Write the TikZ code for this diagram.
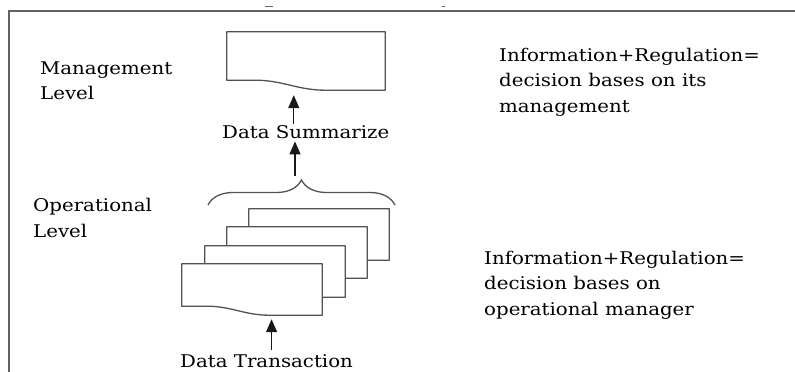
\documentclass[tikz,border=0pt]{standalone}
\usepackage{fontspec}
\setmainfont{DejaVu Serif}[FakeStretch=1.13]
\usetikzlibrary{arrows.meta,calc,decorations.pathreplacing}

\tikzset{
  frameline/.style={draw=black!62, line width=1.4pt},
  docline/.style={draw=black!68, line width=1.3pt, fill=white, line join=round},
  docbox/.style={inner sep=0pt, minimum width=#1},
  conn/.style={draw=black!68, line width=1.3pt,
    -{Triangle[width=11pt,length=13pt]}, black!90},
  txt/.style={inner sep=0pt, anchor=base west, align=left, text=black,
    font=\fontsize{17.5}{25.5}\selectfont},
  bracestyle/.style={draw=black!68, line width=1.3pt,
    decorate, decoration={brace, amplitude=25pt, aspect=0.5}},
}

% document symbol with a wavy bottom edge, drawn over a named box node
\newcommand\docpath[2]{%
  \path[docline] (#1.north west) -- (#1.north east) -- (#1.south east)
    -- ($(#1.south west)!0.62!(#1.south east)$)
    .. controls ($(#1.south west)!0.45!(#1.south east)$)
       and ($(#1.south west)!0.35!(#1.south east)+(0,-#2)$)
    .. ($(#1.south west)!0.18!(#1.south east)+(0,-#2)$)
    -- ($(#1.south west)+(0,-#2)$) -- cycle;}

\begin{document}
\begin{tikzpicture}[x=1pt,y=-1pt]
\useasboundingbox (0,0) rectangle (795,372);

% frame
\draw[frameline] (9,372) -- (9,11) -- (795,11);
\draw[black!60, line width=1pt] (265,6) -- (273,6) (442,6) -- (445,6);

% level labels (anchored at the baseline of their last line)
\node[txt] (mgmt) at (40,99.5) {Management\\Level};
\node[txt] (oper) at (33,237) {Operational\\Level};

% decision notes
\node[txt] (infoA) at (499,112) {Information+Regulation=\\decision bases on its\\management};
\node[txt] (infoB) at (484,315) {Information+Regulation=\\decision bases on\\operational manager};

% management report
\node[docbox=158pt, minimum height=58pt] (top) at (306,61) {};
\docpath{top}{10}

% stacked transaction documents, back to front
\node[docbox=140pt, minimum height=51pt] (d4) at (319,234.5) {};
\docpath{d4}{9}
\node[docbox=140pt, minimum height=51pt] (d3) at (297,252.5) {};
\docpath{d3}{9}
\node[docbox=140pt, minimum height=51pt] (d2) at (275,271.5) {};
\docpath{d2}{9}
\node[docbox=140pt, minimum height=51pt] (d1) at (252,289.5) {};
\docpath{d1}{9}

% brace over the stack
\coordinate (bl) at (208,205);
\coordinate (br) at (395,205);
\draw[bracestyle] (bl) -- (br);
\coordinate (bt) at (295,176);

% flow labels
\node[txt] (ds) at (222,138) {Data Summarize};
\node[txt] (dt) at (180,367) {Data Transaction};

% arrows
\draw[conn, shorten <=1pt, shorten >=5pt] ([xshift=-12pt]ds.north) -- ([xshift=-12pt]ds.north |- top.south);
\draw[conn, shorten >=3pt] (bt) -- (bt |- ds.south);
\draw[conn, shorten <=4pt, shorten >=4pt] ([xshift=5pt]dt.north) -- ([xshift=5pt]dt.north |- d1.south);
\end{tikzpicture}
\end{document}
